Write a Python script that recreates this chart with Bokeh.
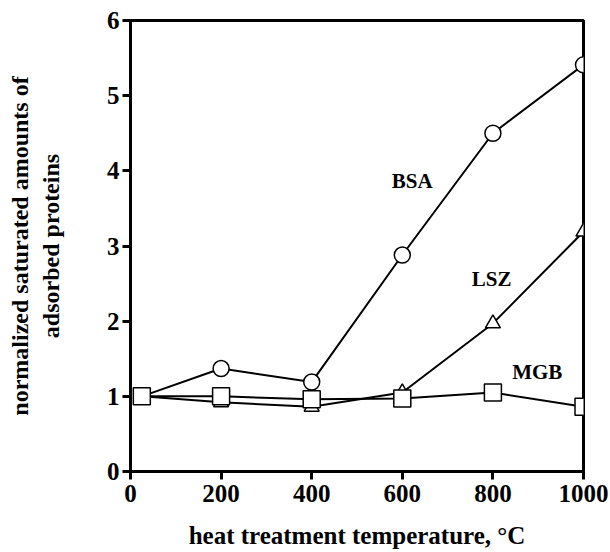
from bokeh.plotting import figure
from bokeh.models import Range1d, Label, FixedTicker
from bokeh.embed import file_html
from bokeh.resources import INLINE

temps = [25, 200, 400, 600, 800, 1000]
bsa = [1.0, 1.37, 1.19, 2.88, 4.5, 5.41]
lsz = [1.0, 0.92, 0.86, 1.05, 1.97, 3.19]
mgb = [1.0, 1.0, 0.96, 0.97, 1.05, 0.86]

x_ticks = [0, 200, 400, 600, 800, 1000]
y_ticks = [0, 1, 2, 3, 4, 5, 6]

labels = [("BSA", 622, 3.86), ("LSZ", 797, 2.56), ("MGB", 898, 1.32)]

FONT = "Liberation Serif"

p = figure(width=610, height=552, output_backend="svg", toolbar_location=None,
           x_range=Range1d(0, 1000), y_range=Range1d(0, 6),
           min_border_left=130, min_border_right=27, min_border_top=20, min_border_bottom=81)
p.grid.visible = False
p.outline_line_color = "black"
p.outline_line_width = 3
p.background_fill_color = "white"

for ax in (p.xaxis[0], p.yaxis[0]):
    ax.axis_line_width = 3
    ax.major_tick_line_width = 3
    ax.major_tick_in = 0
    ax.major_tick_out = 8
    ax.minor_tick_line_color = None
    ax.major_label_text_font = FONT
    ax.major_label_text_font_style = "bold"
    ax.major_label_text_font_size = "25px"
    ax.major_label_text_color = "black"
    ax.axis_label_text_font = FONT
    ax.axis_label_text_font_style = "bold"
    ax.axis_label_text_font_size = "24px"
    ax.axis_label_text_color = "black"

p.xaxis.ticker = FixedTicker(ticks=x_ticks)
p.yaxis.ticker = FixedTicker(ticks=y_ticks)
p.xaxis.axis_label = "heat treatment temperature, °C"
p.yaxis.axis_label = "normalized saturated amounts of\nadsorbed proteins"
p.xaxis.axis_label_text_font_size = "25px"
p.xaxis.major_label_text_line_height = 1.0
p.xaxis.axis_label_text_line_height = 1.0
p.xaxis.axis_label_standoff = 17
p.yaxis.axis_label_standoff = 40
p.xaxis.major_label_standoff = 5
p.yaxis.major_label_standoff = 3

p.line(temps, lsz, line_color="black", line_width=2)
p.scatter(temps, lsz, marker="triangle", size=15, fill_color="white", line_color="black", line_width=1.5)
p.line(temps, bsa, line_color="black", line_width=2)
p.scatter(temps, bsa, marker="circle", size=16, fill_color="white", line_color="black", line_width=1.5)
p.line(temps, mgb, line_color="black", line_width=2)
p.scatter(temps, mgb, marker="square", size=17, fill_color="white", line_color="black", line_width=1.5)

for txt, x, y in labels:
    p.add_layout(Label(x=x, y=y, text=txt, text_font=FONT, text_font_style="bold",
                       text_font_size="21px", text_align="center", text_baseline="middle",
                       text_color="black"))

open("out.html", "w").write(file_html(p, INLINE))
